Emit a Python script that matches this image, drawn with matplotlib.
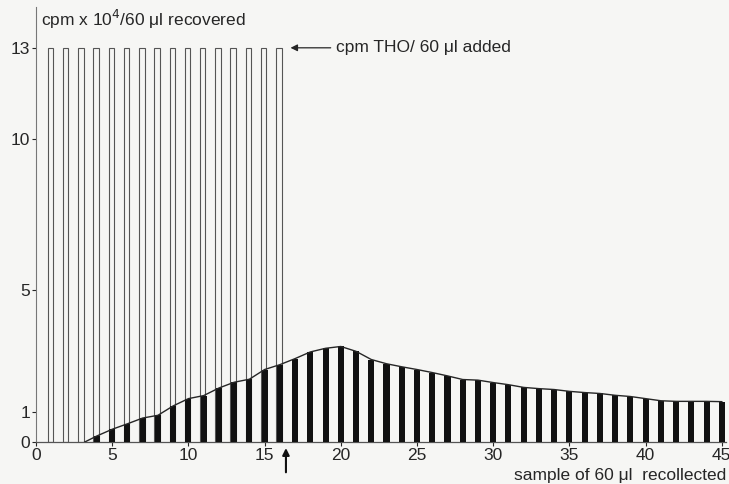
import matplotlib.pyplot as plt
import numpy as np

# samples with THO added (open bars)
added_x = list(range(1, 17))
added_y = [13] * 16

# recovered activity per sample (black bars), cpm x 10^4
rec_x = list(range(4, 46))
rec_y = [0.20, 0.42, 0.60, 0.79, 0.88, 1.19, 1.43, 1.53, 1.78, 1.97,
         2.07, 2.39, 2.55, 2.75, 2.97, 3.09, 3.15, 2.99, 2.72, 2.58,
         2.48, 2.39, 2.29, 2.18, 2.06, 2.04, 1.96, 1.89, 1.80, 1.76,
         1.73, 1.67, 1.63, 1.60, 1.54, 1.50, 1.43, 1.36, 1.34, 1.34,
         1.34, 1.33]
start_x = 3.2  # where the envelope leaves the baseline

xticks = [0, 5, 10, 15, 20, 25, 30, 35, 40, 45]
yticks = [0, 1, 5, 10, 13]

ink = '#262626'
paper = '#f6f6f4'

plt.rcParams['font.family'] = ['Liberation Sans', 'DejaVu Sans']

fig = plt.figure(figsize=(7.29, 4.84), dpi=100, facecolor=paper)
ax = fig.add_axes([0.0494, 0.0868, 0.947, 0.899], facecolor=paper)

ax.bar(np.array(added_x) - 0.06, added_y, width=0.36, facecolor='none',
       edgecolor='#555555', linewidth=0.8, zorder=2)
ax.bar(rec_x, rec_y, width=0.4, color='#111111', zorder=3)
ax.plot([start_x] + rec_x, [0] + rec_y, color=ink, linewidth=1.0, zorder=4)

ax.set_xlim(0, 45.3)
ax.set_ylim(0, 14.35)
ax.set_xticks(xticks)
ax.set_yticks(yticks)
ax.tick_params(axis='both', colors=ink, labelsize=12.5, length=3, width=0.8,
               direction='out', pad=1)
for s in ['top', 'right']:
    ax.spines[s].set_visible(False)
ax.spines['left'].set_color('#777777')
ax.spines['left'].set_linewidth(0.8)
ax.spines['bottom'].set_color('#555555')
ax.spines['bottom'].set_linewidth(0.9)

ax.text(0.3, 13.95, 'cpm x 10$^{4}$/60 μl recovered', fontsize=12.5,
        color=ink, va='center', ha='left')
ax.annotate('cpm THO/ 60 μl added', xy=(16.7, 13), xytext=(19.7, 13),
            fontsize=12.5, color=ink, va='center', ha='left',
            arrowprops=dict(arrowstyle='-|>', color=ink, lw=0.9,
                            mutation_scale=10, shrinkA=2, shrinkB=0))
ax.text(45.3, -1.12, 'sample of 60 μl  recollected', fontsize=12.5,
        color=ink, va='center', ha='right')
ax.annotate('', xy=(16.4, -0.2), xytext=(16.4, -1.0),
            arrowprops=dict(arrowstyle='-|>', color='#111111', lw=1.5,
                            mutation_scale=10, shrinkA=0, shrinkB=0),
            annotation_clip=False)

fig.savefig('out.png', dpi=100, facecolor=paper)
